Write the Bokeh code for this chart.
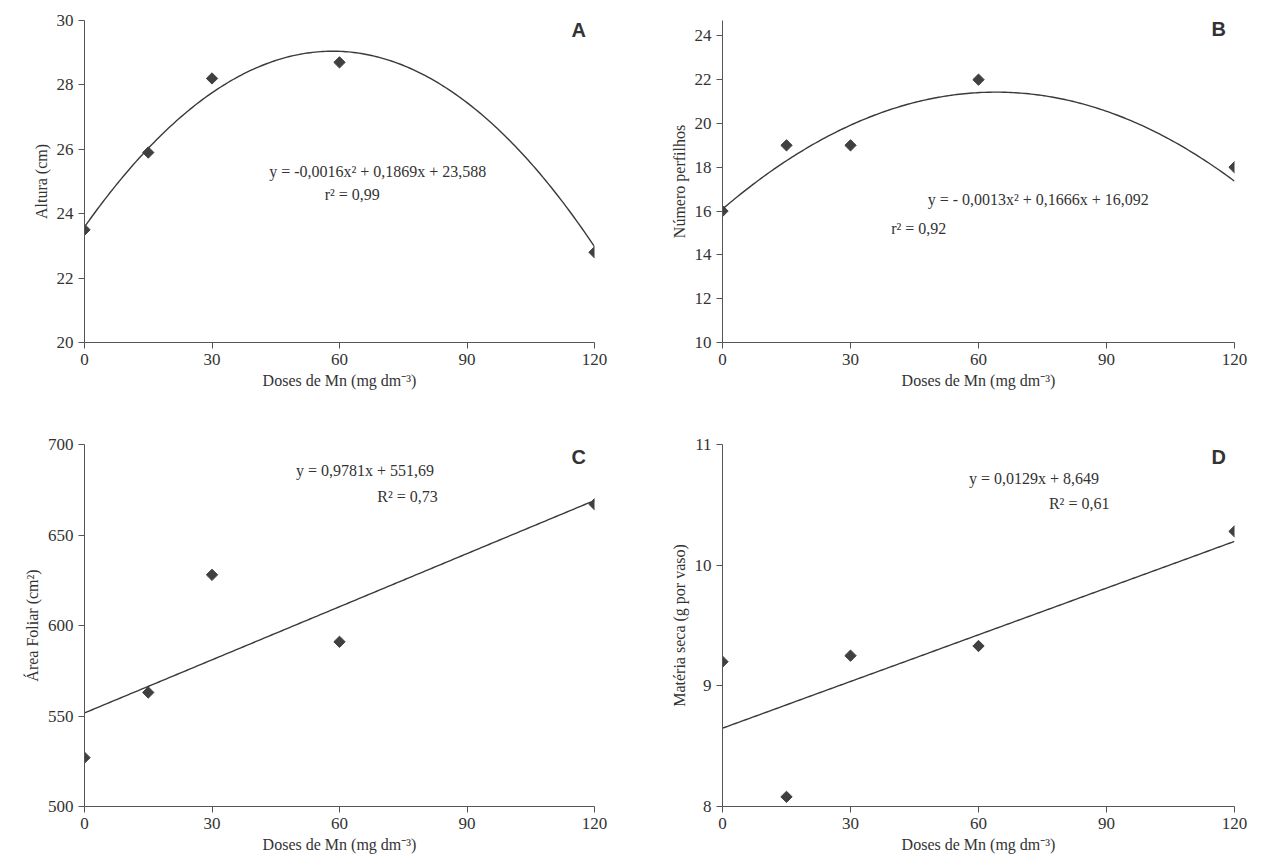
from bokeh.plotting import figure
from bokeh.layouts import gridplot
from bokeh.models import Label, FixedTicker
from bokeh.embed import file_html
from bokeh.resources import INLINE
import numpy as np

doses = [0, 15, 30, 60, 120]
altura = [23.5, 25.9, 28.2, 28.7, 22.8]
perfilhos = [16, 19, 19, 22, 18]
area_foliar = [527, 563, 628, 591, 667]
materia_seca = [9.2, 8.08, 9.25, 9.33, 10.28]

# fitted coefficients (a*x^2 + b*x + c) as printed on the chart
coef_a = [-0.0016, 0.1869, 23.588]
coef_b = [-0.0013, 0.1666, 16.092]
coef_c = [0.0, 0.9781, 551.69]
coef_d = [0.0, 0.0129, 8.649]

SERIF = "Liberation Serif"
SANS = "Liberation Sans"
XLAB = "Doses de Mn (mg dm\u207b\u00b3)"


def panel(y, coef, ylabel, yr, yticks, letter, letter_y, texts, fw, fh, borders):
    p = figure(output_backend="svg", toolbar_location=None, frame_width=fw, frame_height=fh,
               x_range=(0, 120), y_range=yr, min_border_left=borders[0], min_border_right=borders[1],
               min_border_top=borders[2], min_border_bottom=borders[3])
    p.background_fill_color = "white"
    p.outline_line_color = None
    p.grid.grid_line_color = None
    p.xaxis.ticker = FixedTicker(ticks=[0, 30, 60, 90, 120])
    p.yaxis.ticker = FixedTicker(ticks=yticks)
    for ax in (p.xaxis, p.yaxis):
        ax.minor_tick_line_color = None
        ax.major_tick_in = 0
        ax.major_tick_out = 6
        ax.axis_line_color = "#555555"
        ax.major_tick_line_color = "#555555"
        ax.major_label_text_font = SERIF
        ax.major_label_text_font_size = "17px"
        ax.major_label_text_color = "#333333"
        ax.axis_label_text_font = SERIF
        ax.axis_label_text_font_size = "16px"
        ax.axis_label_text_font_style = "normal"
        ax.axis_label_text_color = "#333333"
        ax.axis_label_standoff = 4
    p.xaxis.axis_label = XLAB
    p.yaxis.axis_label = ylabel
    xs = np.linspace(0, 120, 200)
    ys = coef[0] * xs ** 2 + coef[1] * xs + coef[2]
    p.line(xs, ys, line_color="#3a3a3a", line_width=1.4)
    p.scatter(doses, y, marker="square", angle=np.pi / 4, size=8, color="#404040")
    p.add_layout(Label(x=118, y=letter_y, text=letter, text_font=SANS, text_font_style="bold",
                       text_font_size="20px", text_align="right", text_baseline="middle",
                       text_color="#333333"))
    for tx, ty, t in texts:
        p.add_layout(Label(x=tx, y=ty, text=t, text_font=SERIF, text_font_size="16px",
                           text_align="center", text_baseline="middle", text_color="#333333"))
    return p


pa = panel(altura, coef_a, "Altura (cm)", (20, 30), [20, 22, 24, 26, 28, 30], "A", 29.7,
           [(69, 25.3, "y = -0,0016x\u00b2 + 0,1869x + 23,588"), (63, 24.6, "r\u00b2 = 0,99")],
           510, 322, (84, 61, 20, 62))
pb = panel(perfilhos, coef_b, "N\u00famero perfilhos", (10, 24.7), [10, 12, 14, 16, 18, 20, 22, 24], "B", 24.3,
           [(74, 16.55, "y = - 0,0013x\u00b2 + 0,1666x + 16,092"), (46, 15.2, "r\u00b2 = 0,92")],
           512, 322, (67, 17, 20, 62))
pc = panel(area_foliar, coef_c, "\u00c1rea Foliar (cm\u00b2)", (500, 700), [500, 550, 600, 650, 700], "C", 693,
           [(66, 685.4, "y = 0,9781x + 551,69"), (76, 671.4, "R\u00b2 = 0,73")],
           510, 362, (84, 61, 40, 44))
pd_ = panel(materia_seca, coef_d, "Mat\u00e9ria seca (g por vaso)", (8, 11), [8, 9, 10, 11], "D", 10.9,
            [(73, 10.72, "y = 0,0129x + 8,649"), (83.6, 10.51, "R\u00b2 = 0,61")],
            512, 362, (67, 17, 40, 44))

p = gridplot([[pa, pb], [pc, pd_]], toolbar_location=None)
open("out.html", "w").write(file_html(p, INLINE))
